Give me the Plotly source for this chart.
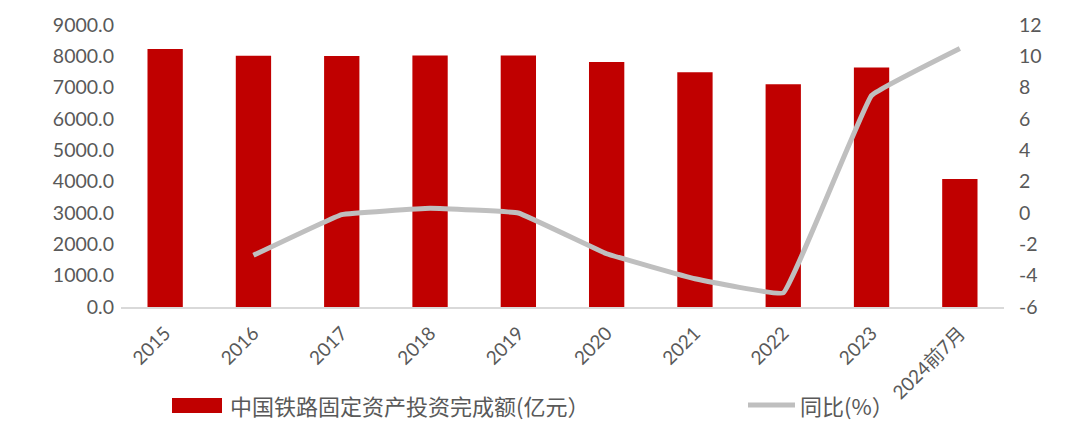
import plotly.graph_objects as go

categories = ["2015", "2016", "2017", "2018", "2019", "2020", "2021", "2022", "2023", "2024前7月"]
investment = [8238, 8015, 8010, 8028, 8029, 7819, 7489, 7109, 7645, 4087]
yoy = [None, -2.7, -0.1, 0.3, 0.0, -2.6, -4.2, -5.1, 7.5, 10.5]
left_ticks = [0, 1000, 2000, 3000, 4000, 5000, 6000, 7000, 8000, 9000]
right_ticks = [-6, -4, -2, 0, 2, 4, 6, 8, 10, 12]
bar_name = "中国铁路固定资产投资完成额(亿元）"
line_name = "同比(%）"

TXT = "#595959"
BAR_C = "#C00000"
LINE_C = "#BFBFBF"

fig = go.Figure()
fig.add_trace(go.Bar(
    x=categories, y=investment, name=bar_name,
    marker=dict(color=BAR_C, line=dict(width=0)), yaxis="y",
))
fig.add_trace(go.Scatter(
    x=categories, y=yoy, name=line_name, mode="lines",
    line=dict(color=LINE_C, width=5, shape="spline", smoothing=0.2),
    yaxis="y2",
))

# plot area in page coords: x 121..1004 px, y 25..307 px
def px_x(p):
    return (p - 121) / 883.0

def px_y(p):
    return (307 - p) / 282.0

shapes = [
    dict(type="rect", xref="paper", yref="paper",
         x0=px_x(172), x1=px_x(222), y0=px_y(398), y1=px_y(413),
         fillcolor=BAR_C, line=dict(width=0)),
    dict(type="line", xref="paper", yref="paper",
         x0=px_x(748), x1=px_x(795), y0=px_y(405), y1=px_y(405),
         line=dict(color=LINE_C, width=5)),
]
annotations = [
    dict(xref="paper", yref="paper", x=px_x(228), y=px_y(405), text=bar_name,
         showarrow=False, xanchor="left", yanchor="middle",
         font=dict(family="'Noto Sans CJK SC', sans-serif", size=22, color=TXT)),
    dict(xref="paper", yref="paper", x=px_x(798), y=px_y(405), text=line_name,
         showarrow=False, xanchor="left", yanchor="middle",
         font=dict(family="'Noto Sans CJK SC', sans-serif", size=22, color=TXT)),
]

fig.update_layout(
    width=1080, height=436,
    margin=dict(l=113, r=84, t=17, b=137, autoexpand=False),
    paper_bgcolor="white", plot_bgcolor="white",
    bargap=0.6,
    showlegend=False,
    font=dict(family="Lato, 'Noto Sans CJK SC', sans-serif", color=TXT, size=19),
    xaxis=dict(
        tickangle=-45, showgrid=False, showline=True, linecolor="#D9D9D9", linewidth=1.5,
        ticks="", tickfont=dict(size=19, color=TXT), ticklabelstandoff=6,
    ),
    yaxis=dict(
        range=[0, 9000], tickvals=left_ticks,
        ticktext=[f"{v:.1f}" for v in left_ticks],
        showgrid=False, zeroline=False, showline=False, ticks="",
        tickfont=dict(size=19.5, color=TXT), ticklabelstandoff=6,
    ),
    yaxis2=dict(
        overlaying="y", side="right", range=[-6, 12], tickvals=right_ticks,
        ticktext=[str(v) for v in right_ticks],
        showgrid=False, zeroline=False, showline=False, ticks="",
        tickfont=dict(size=19.5, color=TXT), ticklabelstandoff=14,
    ),
    shapes=shapes,
    annotations=annotations,
)

fig.write_html("out.html")
